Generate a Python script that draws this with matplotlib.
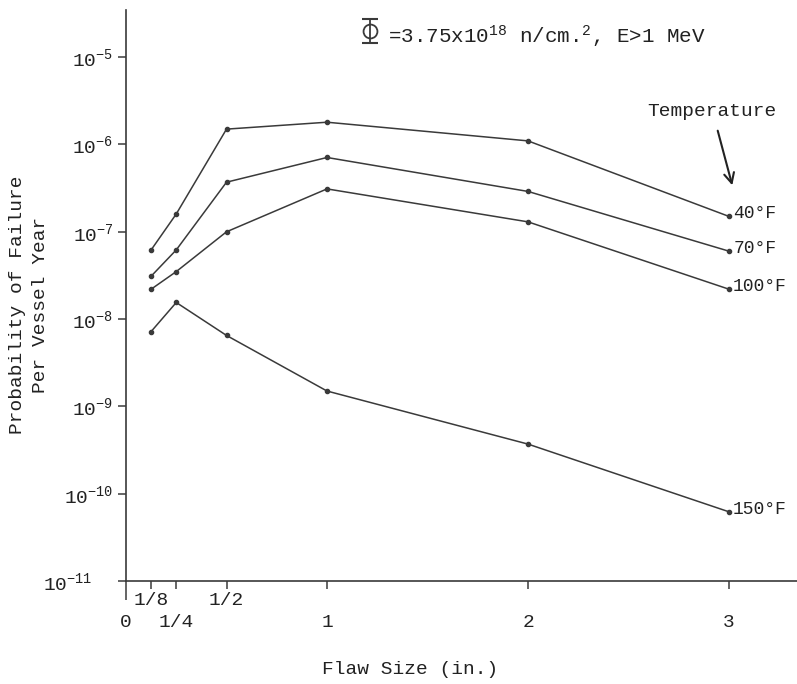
import numpy as np
import matplotlib.pyplot as plt
from matplotlib.ticker import NullLocator

plt.rcParams['font.family'] = ['Liberation Mono', 'DejaVu Sans']
plt.rcParams['mathtext.fontset'] = 'custom'
plt.rcParams['mathtext.rm'] = 'Liberation Mono'
plt.rcParams['mathtext.it'] = 'Liberation Mono'
plt.rcParams['mathtext.bf'] = 'Liberation Mono:bold'

# flaw size (in.) and failure probability per vessel year, by temperature
flaw = [1/8, 1/4, 1/2, 1, 2, 3]
p_40 = [6.2e-8, 1.6e-7, 1.5e-6, 1.8e-6, 1.1e-6, 1.5e-7]
p_70 = [3.1e-8, 6.2e-8, 3.7e-7, 7.1e-7, 2.9e-7, 6.0e-8]
p_100 = [2.2e-8, 3.5e-8, 1.0e-7, 3.1e-7, 1.3e-7, 2.2e-8]
p_150 = [7.2e-9, 1.55e-8, 6.5e-9, 1.5e-9, 3.7e-10, 6.2e-11]
temp_labels = ['40°F', '70°F', '100°F', '150°F']

decades = [-11, -10, -9, -8, -7, -6, -5]
xtick_lower = [0, 1/4, 1, 2, 3]
xlab_lower = ['0', '1/4', '1', '2', '3']
xtick_upper = [1/8, 1/2]
xlab_upper = ['1/8', '1/2']

ink = '#3a3a3a'
W, H = 797, 684

fig = plt.figure(figsize=(W / 100, H / 100), dpi=100)
ax = fig.add_axes([126 / W, 103 / H, 671 / W, 571 / H])
ax.set_yscale('log')
ax.set_xlim(0, 671 / 201)
ax.set_ylim(1e-11, 10 ** (-11 + 571 / 87.3))

for ys, lab in zip([p_40, p_70, p_100, p_150], temp_labels):
    ax.plot(flaw, ys, '-', color=ink, lw=1.1, marker='o', ms=3)
    ax.annotate(lab, xy=(flaw[-1], ys[-1]), xytext=(3, 2), textcoords='offset points',
                ha='left', va='center', fontsize=13, color='#222')

for s in ['top', 'right']:
    ax.spines[s].set_visible(False)
for s in ['left', 'bottom']:
    ax.spines[s].set_color(ink)
    ax.spines[s].set_linewidth(1.2)

ax.set_yticks([10.0 ** d for d in decades])
ax.set_yticklabels([f'$10^{{{d}}}$' for d in decades])
ax.yaxis.set_minor_locator(NullLocator())
ax.tick_params(axis='y', direction='out', length=6, width=1.1, color=ink,
               labelsize=14, labelcolor='#222', pad=3)

ax.set_xticks(xtick_lower)
ax.set_xticklabels(xlab_lower)
ax.set_xticks(xtick_upper, minor=True)
ax.set_xticklabels(xlab_upper, minor=True)
ax.tick_params(axis='x', which='major', direction='out', length=6, width=1.1, color=ink,
               labelsize=14, labelcolor='#222', pad=18)
ax.tick_params(axis='x', which='minor', direction='out', length=6, width=1.1, color=ink,
               labelsize=14, labelcolor='#222', pad=2)
low_tick = ax.yaxis.get_major_ticks()[0]
low_tick.tick1line.set_markersize(21)
low_tick.set_pad(18)
ax.xaxis.get_major_ticks()[0].tick1line.set_markersize(14)


def axc(px, py):
    return (px - 126) / 671, (581 - py) / 571


# fluence note with error-bar symbol
xb, yt = axc(370, 19)
_, yb = axc(370, 43)
_, yc = axc(370, 31)
ax.plot([xb, xb], [yb, yt], color=ink, lw=1.3, transform=ax.transAxes, clip_on=False)
ax.plot([xb, xb], [yb, yt], ls='none', marker='_', ms=12, mew=1.5, color=ink,
        transform=ax.transAxes, clip_on=False)
ax.plot([xb], [yc], ls='none', marker='o', ms=10, mfc='none', mec=ink, mew=1.3,
        transform=ax.transAxes, clip_on=False)
tx, ty = axc(388, 43)
ax.text(tx, ty, '=3.75x10$^{18}$ n/cm.$^{2}$, E>1 MeV', transform=ax.transAxes,
        ha='left', va='baseline', fontsize=15, color='#222')

tx, ty = axc(647, 111)
ax.text(tx, ty, 'Temperature', transform=ax.transAxes, ha='left', va='center',
        fontsize=14, color='#222')
ax.annotate('', xy=axc(733, 188), xytext=axc(717, 128), xycoords='axes fraction',
            textcoords='axes fraction',
            arrowprops=dict(arrowstyle='->', color='#222', lw=1.5, mutation_scale=18))

fig.text(29 / W, 1 - 305 / H, 'Probability of Failure\nPer Vessel Year', rotation=90,
         ha='center', va='center', multialignment='center', linespacing=1.4,
         fontsize=14, color='#222')
fig.text(410 / W, 1 - 670 / H, 'Flaw Size (in.)', ha='center', va='center',
         fontsize=14, color='#222')

fig.savefig('out.png', dpi=100)
